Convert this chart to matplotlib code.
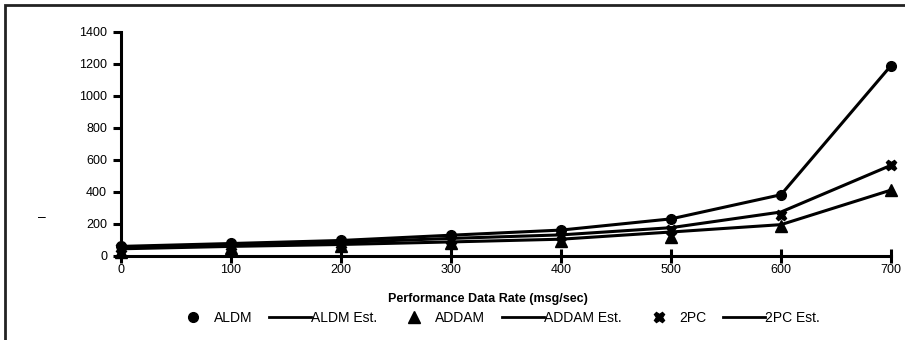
import matplotlib.pyplot as plt
from matplotlib.lines import Line2D
from matplotlib.patches import Rectangle

plt.rcParams['font.family'] = ['Liberation Sans', 'DejaVu Sans']

# data
rates = [0, 100, 200, 300, 400, 500, 600, 700]
aldm = [62, 80, 98, 132, 163, 231, 383, 1190]
aldm_est = [60, 78, 97, 130, 162, 232, 383, 1190]
addam = [25, 50, 65, 80, 95, 119, 190, 412]
addam_est = [45, 60, 72, 88, 105, 150, 196, 412]
twopc = [50, 62, 78, 100, 122, 165, 255, 567]
twopc_est = [55, 70, 85, 110, 132, 177, 275, 567]
yticks = [0, 200, 400, 600, 800, 1000, 1200, 1400]

fig = plt.figure(figsize=(9.05, 3.4), dpi=100)
ax = fig.add_axes([121 / 905, 84 / 340, 770 / 905, 224 / 340])

lw = 2.2
ax.plot(rates, aldm_est, color='black', lw=lw, clip_on=False)
ax.plot(rates, addam_est, color='black', lw=lw, clip_on=False)
ax.plot(rates, twopc_est, color='black', lw=lw, clip_on=False)
ax.plot(rates, aldm, 'o', color='black', ms=7, clip_on=False)
ax.plot(rates, addam, '^', color='black', ms=8, clip_on=False)
ax.plot(rates, twopc, 'X', color='black', ms=7.5, clip_on=False)

ax.set_xlim(0, 700)
ax.set_ylim(0, 1400)
ax.set_xticks(rates)
ax.set_yticks(yticks)
for s in ['top', 'right']:
    ax.spines[s].set_visible(False)
for s in ['left', 'bottom']:
    ax.spines[s].set_linewidth(2.2)
ax.tick_params(axis='y', direction='out', length=6, width=2.2, labelsize=9, pad=4)
ax.tick_params(axis='x', direction='inout', length=10, width=2.2, labelsize=9, pad=1)
ax.set_xlabel('Performance Data Rate (msg/sec)', fontsize=9, fontweight='bold')
ax.xaxis.set_label_coords((488 - 121) / 770, -0.165)

fig.text(42 / 905, 1 - 217 / 340, '–', fontsize=10, ha='center', va='center')

# outer frame
fig.patches.append(Rectangle((5 / 905, -0.2), 1.2, 1.2 - 5 / 340, transform=fig.transFigure,
                             fill=False, edgecolor='#222222', lw=2))

handles = [
    Line2D([], [], ls='', marker='o', color='black', ms=7),
    Line2D([], [], color='black', lw=2),
    Line2D([], [], ls='', marker='^', color='black', ms=8),
    Line2D([], [], color='black', lw=2),
    Line2D([], [], ls='', marker='X', color='black', ms=7.5),
    Line2D([], [], color='black', lw=2),
]
labels = ['ALDM', 'ALDM Est.', 'ADDAM', 'ADDAM Est.', '2PC', '2PC Est.']
fig.legend(handles, labels, loc='center', bbox_to_anchor=(496 / 905, 1 - 318 / 340), ncol=6,
           frameon=False, fontsize=10, handlelength=3.0, handletextpad=0.0,
           columnspacing=1.2, borderpad=0, borderaxespad=0)

fig.savefig('out.png', dpi=100)
